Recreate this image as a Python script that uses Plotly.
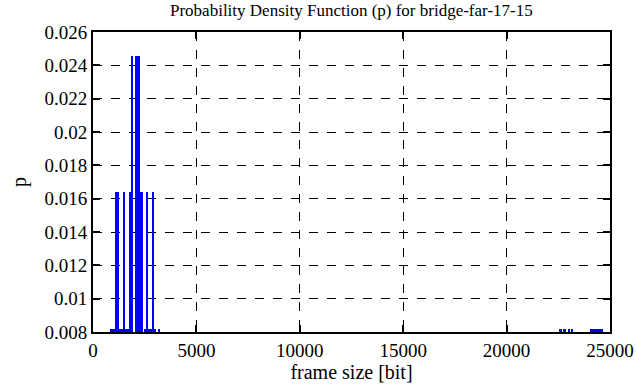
import plotly.graph_objects as go

N = 122
frame_sizes = [900, 1000, 1100, 1200, 1300, 1400, 1500, 1600, 1700, 1800, 1900,
               2100, 2200, 2250, 2350, 2500, 2600, 2700, 2800, 2900, 3000, 3200,
               22600, 22800, 23000, 23150, 24100, 24250, 24400, 24500, 24600]
counts = [1, 1, 2, 2, 1, 1, 2, 1, 1, 2, 3,
          3, 3, 2, 2, 1, 2, 1, 1, 2, 1, 1,
          1, 1, 1, 1, 1, 1, 1, 1, 1]
p_values = [c / N for c in counts]

x_ticks = [0, 5000, 10000, 15000, 20000, 25000]
y_ticks = [0.008, 0.01, 0.012, 0.014, 0.016, 0.018, 0.02, 0.022, 0.024, 0.026]

fig = go.Figure()
fig.add_trace(go.Bar(x=frame_sizes, y=p_values, width=110,
                     marker=dict(color="#0000ff", line=dict(width=0))))

FAM = "Liberation Serif, Times New Roman, serif"
F = dict(family=FAM, size=19, color="black")
FT = dict(family=FAM, size=17, color="black")
FA = dict(family=FAM, size=20, color="black")
fig.update_layout(
    width=636, height=387,
    margin=dict(l=93, r=26, t=32, b=55, autoexpand=False),
    paper_bgcolor="white", plot_bgcolor="white",
    font=F,
    showlegend=False,
    bargap=0,
)
fig.add_annotation(text="Probability Density Function (p) for bridge-far-17-15",
                   xref="paper", yref="paper", x=0.5, y=1, yanchor="bottom",
                   yshift=10, showarrow=False, font=FT)
common = dict(showline=True, linecolor="black", linewidth=2, mirror="ticks",
              ticks="inside", ticklen=7, tickcolor="black", tickwidth=1.5,
              showgrid=True, gridcolor="black", griddash="dash", gridwidth=1,
              zeroline=False, automargin=False, tickfont=F)
fig.update_xaxes(range=[0, 25000], tickvals=x_ticks, ticktext=[str(v) for v in x_ticks],
                 title=dict(text="frame size [bit]", standoff=2, font=FA), **common)
fig.update_yaxes(range=[0.008, 0.026], tickvals=y_ticks,
                 ticktext=[f"{v:g}" for v in y_ticks],
                 title=dict(text="p", standoff=12, font=FA), **common)
fig.write_html("out.html", config={"displayModeBar": False},
               post_script="document.body.style.margin='0';document.body.style.overflow='hidden';")
